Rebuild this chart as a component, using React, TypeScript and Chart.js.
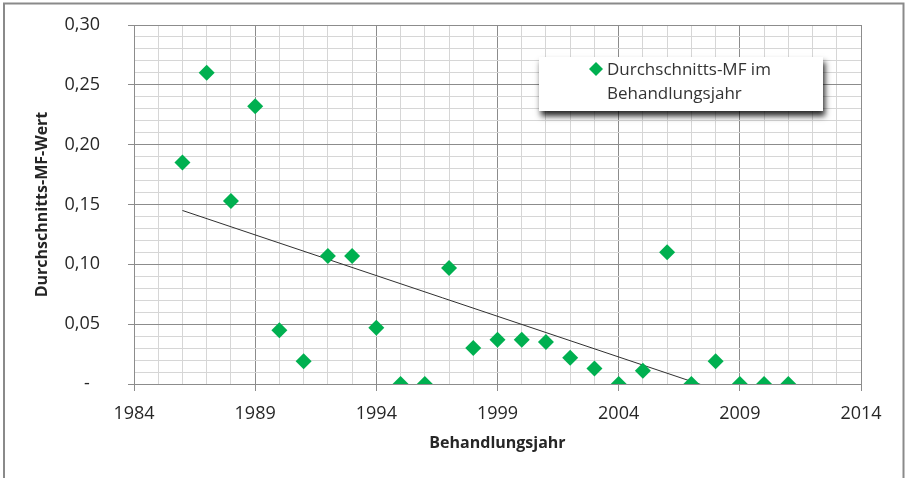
import React, { useEffect, useRef } from "react";
import { Chart, registerables } from "chart.js";

Chart.register(...registerables);

// ---- data ----
const years = [1986, 1987, 1988, 1989, 1990, 1991, 1992, 1993, 1994, 1995, 1996, 1997, 1998,
  1999, 2000, 2001, 2002, 2003, 2004, 2005, 2006, 2007, 2008, 2009, 2010, 2011];
const mfValues = [0.185, 0.26, 0.153, 0.232, 0.045, 0.019, 0.107, 0.107, 0.047, 0, 0, 0.097, 0.030,
  0.037, 0.037, 0.035, 0.022, 0.013, 0, 0.011, 0.110, 0, 0.019, 0, 0, 0];
const trendYears = [1986, 2011];
const trendValues = [0.145, -0.025];
const xTickYears = [1984, 1989, 1994, 1999, 2004, 2009, 2014];
const yTickLabels = ["-\u2007", "0,05", "0,10", "0,15", "0,20", "0,25", "0,30"];
const seriesName = ["Durchschnitts-MF im", "Behandlungsjahr"];
const xTitle = "Behandlungsjahr";
const yTitle = "Durchschnitts-MF-Wert";

const GREEN = "#00B050";
const MINOR = "#d6d6d6";
const MAJOR = "#8c8c8c";
const TEXT = "#262626";

const frameAndLegend = {
  id: "frameAndLegend",
  beforeDraw(chart: any) {
    const ctx = chart.ctx;
    ctx.save();
    ctx.strokeStyle = "#8a8a8a";
    ctx.lineWidth = 2;
    ctx.strokeRect(4, 3.5, 899.5, 600);
    ctx.restore();
  },
  afterDraw(chart: any) {
    const ctx = chart.ctx;
    ctx.save();
    ctx.shadowColor = "rgba(0,0,0,0.85)";
    ctx.shadowBlur = 6;
    ctx.shadowOffsetX = 2;
    ctx.shadowOffsetY = 5;
    ctx.fillStyle = "#ffffff";
    ctx.fillRect(539, 57, 284, 54);
    ctx.restore();

    ctx.save();
    const cx = 596, cy = 69, r = 7;
    ctx.fillStyle = GREEN;
    ctx.beginPath();
    ctx.moveTo(cx, cy - r);
    ctx.lineTo(cx + r, cy);
    ctx.lineTo(cx, cy + r);
    ctx.lineTo(cx - r, cy);
    ctx.closePath();
    ctx.fill();
    ctx.fillStyle = "#333333";
    ctx.font = "17px 'Open Sans'";
    ctx.textBaseline = "alphabetic";
    ctx.textAlign = "left";
    ctx.fillText(seriesName[0], 607, 75);
    ctx.fillText(seriesName[1], 607, 99);
    ctx.restore();
  },
};

function isMajorX(v: number) {
  return xTickYears.includes(Math.round(v));
}
function yIndex(v: number) {
  const k = Math.round(v * 100);
  return k % 5 === 0 ? k / 5 : -1;
}

export default function App() {
  const ref = useRef<HTMLCanvasElement>(null);
  useEffect(() => {
    if (!ref.current) return;
    const chart = new Chart(ref.current, {
      type: "scatter",
      data: {
        datasets: [
          {
            label: seriesName.join(" "),
            data: years.map((y, i) => ({ x: y, y: mfValues[i] })),
            pointStyle: "rectRot",
            pointRadius: 8,
            backgroundColor: GREEN,
            borderColor: GREEN,
            borderWidth: 0,
            order: 1,
          },
          {
            type: "line",
            label: "trend",
            data: trendYears.map((y, i) => ({ x: y, y: trendValues[i] })),
            borderColor: "#303030",
            borderWidth: 1,
            pointRadius: 0,
            showLine: true,
            fill: false,
            order: 2,
          } as any,
        ],
      },
      options: {
        responsive: false,
        animation: false,
        layout: { padding: { left: 0, top: 25, right: 46, bottom: 0 } },
        plugins: { legend: { display: false }, tooltip: { enabled: false } },
        scales: {
          x: {
            type: "linear",
            min: 1984,
            max: 2014,
            afterFit(scale: any) { scale.height = 94; },
            ticks: {
              stepSize: 1,
              autoSkip: false,
              maxRotation: 0,
              padding: 12,
              color: TEXT,
              font: { family: "'Open Sans'", size: 18 },
              callback: (v: any) => (isMajorX(Number(v)) ? String(Math.round(Number(v))) : ""),
            },
            grid: {
              color: (c: any) => (isMajorX(c.tick?.value) ? MAJOR : MINOR),
              tickColor: (c: any) => (isMajorX(c.tick?.value) ? MAJOR : "rgba(0,0,0,0)"),
              tickLength: 7,
              lineWidth: 1,
            },
            border: { color: MAJOR, width: 1 },
            title: {
              display: true,
              text: xTitle,
              color: TEXT,
              font: { family: "'Open Sans'", size: 16, weight: "bold" },
              padding: { top: 0, bottom: 25 },
            },
          },
          y: {
            type: "linear",
            min: 0,
            max: 0.3,
            afterFit(scale: any) {
              scale.width = 134;
              scale.paddingTop = 0;
              scale.paddingBottom = 0;
            },
            ticks: {
              stepSize: 0.01,
              autoSkip: false,
              padding: 28,
              color: TEXT,
              font: { family: "'Open Sans'", size: 18 },
              callback: (v: any) => {
                const k = yIndex(Number(v));
                return k >= 0 ? yTickLabels[k] : "";
              },
            },
            grid: {
              color: (c: any) => (yIndex(c.tick?.value) >= 0 ? MAJOR : MINOR),
              tickColor: (c: any) => (yIndex(c.tick?.value) >= 0 ? MAJOR : "rgba(0,0,0,0)"),
              tickLength: 6,
              lineWidth: 1,
            },
            border: { color: MAJOR, width: 1 },
            title: {
              display: true,
              text: yTitle,
              color: TEXT,
              font: { family: "'Open Sans'", size: 16, weight: "bold" },
              padding: { top: 33, bottom: 0 },
            },
          },
        },
      },
      plugins: [frameAndLegend],
    });
    return () => chart.destroy();
  }, []);
  return (
    <div style={{ position: "fixed", left: 0, top: 0, width: 907, height: 478, background: "#fff" }}>
      <canvas ref={ref} width={907} height={478} style={{ display: "block" }} />
    </div>
  );
}
